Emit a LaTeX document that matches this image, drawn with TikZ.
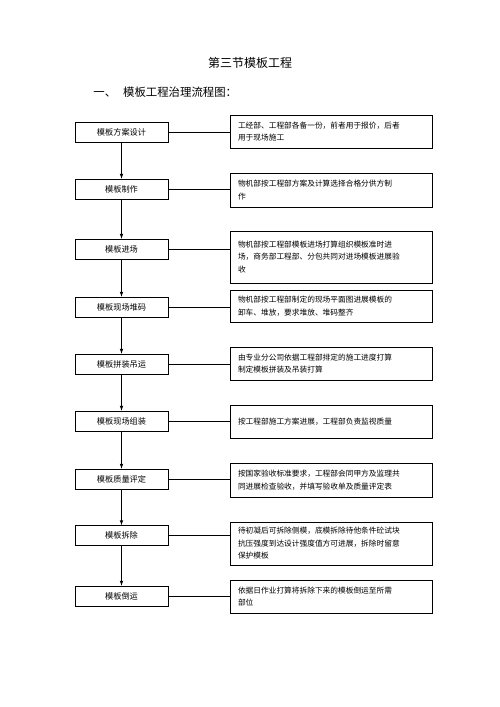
\documentclass[tikz,border=0pt]{standalone}
\usepackage{fontspec}
\setmainfont{Noto Sans CJK SC}
\usepackage{tikz}
\usetikzlibrary{arrows}

\begin{document}
\begin{tikzpicture}[x=1pt,y=-1pt,>=latex,line width=0.7pt]
	\tikzstyle{stage}=[draw, rectangle, minimum width=93pt, minimum height=20pt, inner sep=0pt, font=\fontsize{8.2}{10}\selectfont]
	\tikzstyle{note}=[draw, rectangle, text width=186pt, inner xsep=8pt, inner ysep=0pt, align=left, font=\fontsize{7.7}{12.5}\selectfont]
	\useasboundingbox (0,0) rectangle (500,707);
	\node (title) at (250,63) {\fontsize{12}{14}\selectfont 第三节模板工程};
	\node[anchor=west, inner sep=0pt] (head) at (93,92) {\fontsize{11.4}{13}\selectfont 一、\hspace{7pt}模板工程治理流程图：};
		\node[stage]	(A) at (121.5,132.5) {模板方案设计};
		\node[stage]	(B) at (121.5,189) {模板制作};
		\node[stage]	(C) at (121.5,249) {模板进场};
		\node[stage]	(D) at (121.5,307) {模板现场堆码};
		\node[stage]	(E) at (121.5,364) {模板拼装吊运};
		\node[stage]	(F) at (121.5,421) {模板现场组装};
		\node[stage]	(G) at (121.5,479) {模板质量评定};
		\node[stage]	(H) at (121.5,535.5) {模板拆除};
		\node[stage]	(I) at (121.5,596) {模板倒运};
		\node[note, minimum height=33pt]	(RA) at (331,131.5) {工经部、工程部各备一份，前者用于报价，后者\\用于现场施工};
		\node[note, minimum height=34pt]	(RB) at (331,190) {物机部按工程部方案及计算选择合格分供方制\\作};
		\node[note, minimum height=52pt]	(RC) at (331,257) {物机部按工程部模板进场打算组织模板准时进\\场，商务部工程部、分包共同对进场模板进展验\\收};
		\node[note, minimum height=32pt]	(RD) at (331,306) {物机部按工程部制定的现场平面图进展模板的\\卸车、堆放，要求堆放、堆码整齐};
		\node[note, minimum height=33pt]	(RE) at (331,363.5) {由专业分公司依据工程部排定的施工进度打算\\制定模板拼装及吊装打算};
		\node[note, minimum height=33pt]	(RF) at (331,421.5) {按工程部施工方案进展，工程部负责监视质量};
		\node[note, minimum height=34pt]	(RG) at (331,480) {按国家验收标准要求，工程部会同甲方及监理共\\同进展检查验收，并填写验收单及质量评定表};
		\node[note, minimum height=43pt]	(RH) at (331,543.5) {待初凝后可拆除侧模，底模拆除待他条件砼试块\\抗压强度到达设计强度值方可进展，拆除时留意\\保护模板};
		\node[note, minimum height=33pt]	(RI) at (331,596.5) {依据日作业打算将拆除下来的模板倒运至所需\\部位};
		\path[->]
				(A) edge (B)
				(B) edge (C)
				(C) edge (D)
				(D) edge (E)
				(E) edge (F)
				(F) edge (G)
				(G) edge (H)
				(H) edge (I);
		\path[-]
				(A.east) edge (A.east -| RA.west)
				(B.east) edge (B.east -| RB.west)
				(C.east) edge (C.east -| RC.west)
				(D.east) edge (D.east -| RD.west)
				(E.east) edge (E.east -| RE.west)
				(F.east) edge (F.east -| RF.west)
				(G.east) edge (G.east -| RG.west)
				(H.east) edge (H.east -| RH.west)
				(I.east) edge (I.east -| RI.west);
\end{tikzpicture}
\end{document}
